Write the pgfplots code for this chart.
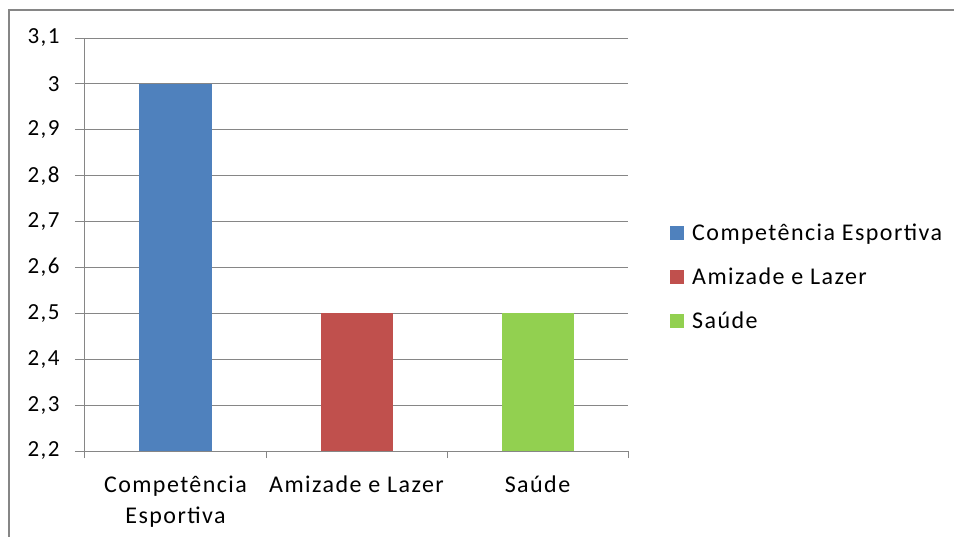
\documentclass[border=0pt]{standalone}
\usepackage{fontspec}
\setmainfont{Carlito}[LetterSpace=6]
\usepackage{pgfplots}
\pgfplotsset{compat=1.18}
\definecolor{cblue}{HTML}{4F81BD}
\definecolor{cred}{HTML}{C0504D}
\definecolor{cgreen}{HTML}{92D050}
\definecolor{cgrid}{HTML}{868686}
\begin{document}
\begin{tikzpicture}[x=1bp,y=1bp]
\path[use as bounding box] (-85bp,-86bp) rectangle (869bp,451bp);
\draw[cgrid,line width=2.5bp] (-76bp,-86bp) -- (-76bp,441bp) -- (869bp,441bp);
\begin{axis}[
  at={(0bp,0bp)}, anchor=south west,
  scale only axis,
  width=543bp, height=413bp,
  xmin=-0.5, xmax=2.5,
  ymin=2.2, ymax=3.1,
  ytick={2.2,2.3,...,3.1},
  yticklabels={2{,}2,2{,}3,2{,}4,2{,}5,2{,}6,2{,}7,2{,}8,2{,}9,3,3{,}1},
  xtick={0,1,2},
  xticklabels={{Competência\\Esportiva},{Amizade e Lazer},{Saúde}},
  minor xtick={-0.5,0.5,1.5,2.5},
  axis x line*=bottom, axis y line*=left,
  axis line style={cgrid,line width=1bp,-},
  tick align=outside,
  major tick length=10bp,
  minor tick length=7bp,
  xtick style={draw=none},
  minor x tick style={draw=cgrid,line width=1bp},
  ytick style={draw=cgrid,line width=1bp},
  ymajorgrids, grid style={cgrid,line width=1bp},
  ticklabel style={font=\fontsize{24bp}{31bp}\selectfont},
  yticklabel style={/pgf/number format/assume math mode=true, xshift=-12bp,
    font=\fontsize{23bp}{28bp}\selectfont},
  xticklabel style={align=center, yshift=-11bp},
  legend style={draw=none, fill=none, at={(585bp,174bp)}, anchor=west,
    font=\fontsize{24bp}{28bp}\selectfont, row sep=22bp,
    legend cell align=left, inner sep=0pt,
    nodes={inner xsep=8bp}},
  legend image code/.code={\path[#1,draw=none] (0bp,-7bp) rectangle (14bp,7bp);},
]
\addplot[ybar, bar width=72bp, bar shift=0pt, fill=cblue, draw=none] coordinates {(0,3.0)};
\addlegendentry{Competência Esportiva}
\addplot[ybar, bar width=72bp, bar shift=0pt, fill=cred, draw=none] coordinates {(1,2.5)};
\addlegendentry{Amizade e Lazer}
\addplot[ybar, bar width=72bp, bar shift=0pt, fill=cgreen, draw=none] coordinates {(2,2.5)};
\addlegendentry{Saúde}
\end{axis}
\end{tikzpicture}
\end{document}
